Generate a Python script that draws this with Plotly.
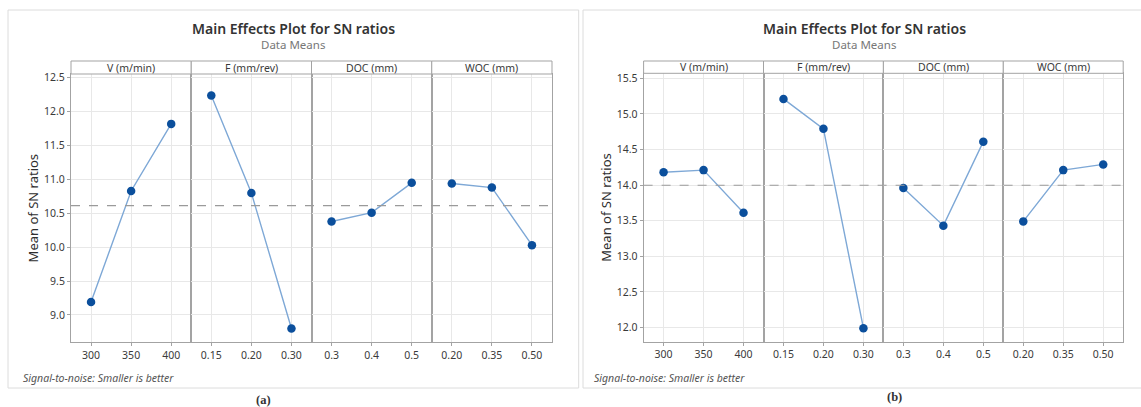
import numpy as np
import plotly.graph_objects as go

# ---------------- data ----------------
factors = ["V (m/min)", "F (mm/rev)", "DOC (mm)", "WOC (mm)"]
levels_V = ["300", "350", "400"]
levels_F = ["0.15", "0.20", "0.30"]
levels_DOC = ["0.3", "0.4", "0.5"]
levels_WOC = ["0.20", "0.35", "0.50"]

sn_a_V = [9.19, 10.83, 11.82]
sn_a_F = [12.24, 10.80, 8.80]
sn_a_DOC = [10.38, 10.51, 10.95]
sn_a_WOC = [10.94, 10.88, 10.03]

sn_b_V = [14.18, 14.21, 13.61]
sn_b_F = [15.21, 14.79, 11.99]
sn_b_DOC = [13.96, 13.43, 14.61]
sn_b_WOC = [13.49, 14.21, 14.29]

yticks_a = [9.0, 9.5, 10.0, 10.5, 11.0, 11.5, 12.0, 12.5]
yticks_b = [12.0, 12.5, 13.0, 13.5, 14.0, 14.5, 15.0, 15.5]

title_text = "Main Effects Plot for SN ratios"
subtitle_text = "Data Means"
ytitle_text = "Mean of SN ratios"
foot_text = "Signal-to-noise: Smaller is better"
panel_labels = ["(a)", "(b)"]

# ---------------- layout helpers ----------------
W, H = 1141, 407
def px(x):
    return x / W
def py(y):
    return 1 - y / H

levels = [levels_V, levels_F, levels_DOC, levels_WOC]
charts = [
    dict(values=[sn_a_V, sn_a_F, sn_a_DOC, sn_a_WOC], yticks=yticks_a,
         edges=[71, 191.25, 311.5, 431.75, 552], top=74, bottom=342.3,
         yrange=[8.597, 12.556], strip_top=61, box=(8, 10, 578.7, 388),
         title_x=293, foot_x=21, lab_x=263, lab_y=400),
    dict(values=[sn_b_V, sn_b_F, sn_b_DOC, sn_b_WOC], yticks=yticks_b,
         edges=[643.6, 763.5, 883.4, 1003.3, 1123.2], top=73.3, bottom=341.7,
         yrange=[11.80, 15.57], strip_top=61, box=(583, 10, 1145, 388),
         title_x=864, foot_x=592, lab_x=894, lab_y=397),
]

LINE_C = "#7ea8d6"
MARK_C = "#0b4f9c"
FRAME_C = "#a3a3a3"
GRID_C = "#e8e8e8"
TXT_C = "#3a3a3a"
FONT = "Noto Sans"

fig = go.Figure()
layout = dict(
    width=W, height=H, margin=dict(l=0, r=0, t=0, b=0),
    paper_bgcolor="white", plot_bgcolor="white", showlegend=False,
    font=dict(family=FONT, color=TXT_C, size=10),
)
shapes = []
annotations = []

idx = 0
for c_i, ch in enumerate(charts):
    first_idx = idx + 1
    ydom = [py(ch["bottom"]), py(ch["top"])]
    for p in range(4):
        idx += 1
        xname = "xaxis" if idx == 1 else f"xaxis{idx}"
        yname = "yaxis" if idx == 1 else f"yaxis{idx}"
        xref = "x" if idx == 1 else f"x{idx}"
        yref = "y" if idx == 1 else f"y{idx}"
        first_y = "y" if first_idx == 1 else f"y{first_idx}"
        fig.add_trace(go.Scatter(
            x=levels[p], y=ch["values"][p], mode="lines+markers",
            line=dict(color=LINE_C, width=1.4),
            marker=dict(color=MARK_C, size=8.5),
            xaxis=xref, yaxis=yref, hoverinfo="skip"))
        layout[xname] = dict(
            domain=[px(ch["edges"][p]), px(ch["edges"][p + 1])],
            anchor=yref, type="category", categoryorder="array",
            categoryarray=levels[p], range=[-0.5, 2.5],
            showline=True, mirror=True, linecolor=FRAME_C, linewidth=1,
            showgrid=True, gridcolor=GRID_C, gridwidth=1,
            ticks="outside", ticklen=3, tickcolor=FRAME_C,
            tickfont=dict(size=10.5, color=TXT_C), automargin=False,
            zeroline=False, fixedrange=True)
        ydict = dict(
            domain=ydom, anchor=xref, range=ch["yrange"],
            tickvals=ch["yticks"], tickformat=".1f",
            showline=True, mirror=True, linecolor=FRAME_C, linewidth=1,
            showgrid=True, gridcolor=GRID_C, gridwidth=1,
            zeroline=False, automargin=False, fixedrange=True)
        if p == 0:
            ydict.update(ticks="outside", ticklen=3, tickcolor=FRAME_C,
                         tickfont=dict(size=10.5, color=TXT_C),
                         title=dict(text=ytitle_text, standoff=2,
                                    font=dict(size=13, color="#2e2e2e")))
        else:
            ydict.update(matches=first_y, showticklabels=False, ticks="")
        layout[yname] = ydict
        # strip header
        shapes.append(dict(type="rect", xref=f"{xref} domain", yref="paper",
                           x0=0, x1=1, y0=py(ch["top"]), y1=py(ch["strip_top"]),
                           line=dict(color=FRAME_C, width=1), fillcolor="white",
                           layer="above"))
        annotations.append(dict(text=factors[p], xref=f"{xref} domain", yref="paper",
                                x=0.5, y=py((ch["top"] + ch["strip_top"]) / 2),
                                showarrow=False, xanchor="center", yanchor="middle",
                                font=dict(size=10.5, color=TXT_C)))
    # reference (grand mean) dashed line
    grand_mean = float(np.mean(np.concatenate([np.array(v) for v in ch["values"]])))
    shapes.append(dict(type="line", xref="paper", yref=first_y,
                       x0=px(ch["edges"][0]), x1=px(ch["edges"][-1]),
                       y0=grand_mean, y1=grand_mean,
                       line=dict(color="#9a9a9a", width=1.1, dash="dash"),
                       layer="above"))
    # outer frame of each figure
    bx0, by0, bx1, by1 = ch["box"]
    shapes.append(dict(type="rect", xref="paper", yref="paper",
                       x0=px(bx0), x1=px(bx1), y0=py(by1), y1=py(by0),
                       line=dict(color="#dcdcdc", width=1), layer="below"))
    annotations.append(dict(text=title_text, xref="paper", yref="paper",
                            x=px(ch["title_x"]), y=py(29), showarrow=False,
                            xanchor="center", yanchor="middle",
                            font=dict(size=14, color="#333333", weight=600)))
    annotations.append(dict(text=subtitle_text, xref="paper", yref="paper",
                            x=px(ch["title_x"]), y=py(44.5), showarrow=False,
                            xanchor="center", yanchor="middle",
                            font=dict(size=11.5, color="#777777")))
    annotations.append(dict(text=f"<i>{foot_text}</i>", xref="paper", yref="paper",
                            x=px(ch["foot_x"]), y=py(377.5), showarrow=False,
                            xanchor="left", yanchor="middle",
                            font=dict(size=10.5, color="#555555")))
    annotations.append(dict(text=panel_labels[c_i], xref="paper", yref="paper",
                            x=px(ch["lab_x"]), y=py(ch["lab_y"]), showarrow=False,
                            xanchor="center", yanchor="middle",
                            font=dict(family="Liberation Serif", size=12.5,
                                      color="#333333", weight=600)))

layout["shapes"] = shapes
layout["annotations"] = annotations
fig.update_layout(**layout)
fig.write_html(
    "out.html",
    config=dict(displayModeBar=False),
    post_script="document.body.style.margin='0';document.body.style.overflow='hidden';",
)
